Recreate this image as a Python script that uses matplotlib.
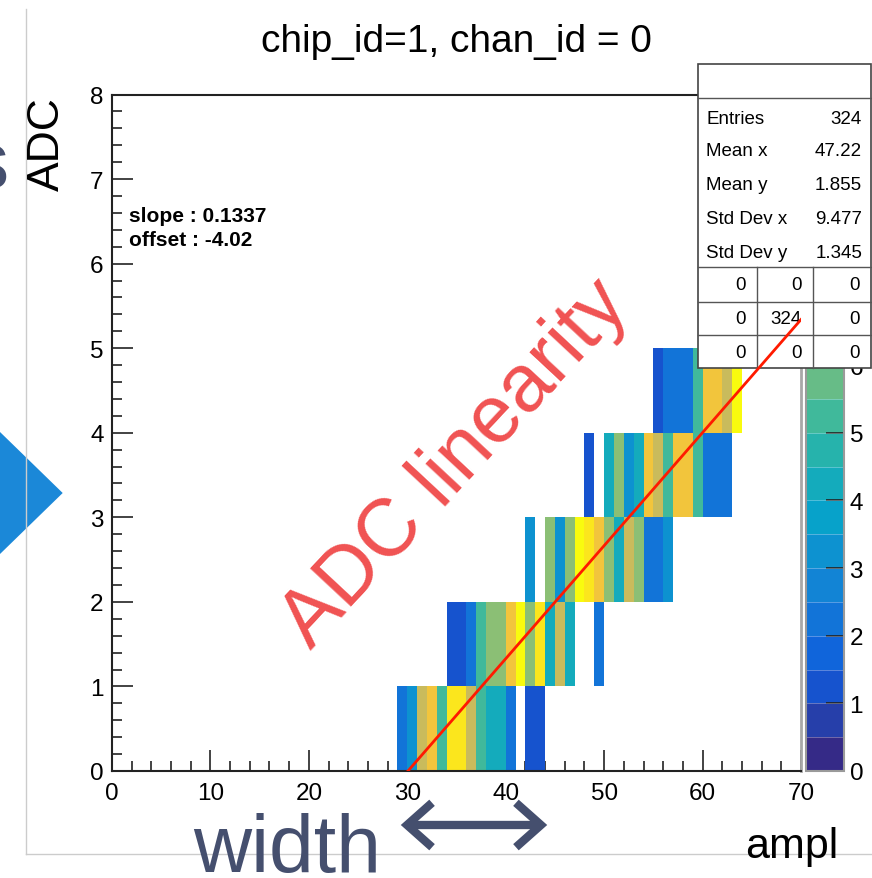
import numpy as np
import matplotlib
matplotlib.use("Agg")
import matplotlib.pyplot as plt
from matplotlib.colors import ListedColormap, BoundaryNorm, LinearSegmentedColormap
from matplotlib.patches import Rectangle, Polygon, FancyArrowPatch
from matplotlib.lines import Line2D

plt.rcParams['font.family'] = ['Liberation Sans', 'DejaVu Sans']

W, H = 872, 879

# ---------------- data ----------------
title = "chip_id=1, chan_id = 0"
x_label = "ampl"
y_label = "ADC"

ampl_adc0 = [29, 30, 31, 32, 33, 34, 35, 36, 37, 38, 39, 40, 42, 43]
counts_adc0 = [2, 3, 7, 8, 5, 9, 9, 7, 5, 4, 4, 2, 1, 1]
ampl_adc1 = [34, 35, 36, 37, 38, 39, 40, 41, 42, 43, 44, 45, 46, 49]
counts_adc1 = [1, 1, 2, 5, 6, 6, 8, 10, 6, 9, 4, 7, 4, 2]
ampl_adc2 = [42, 44, 45, 46, 47, 48, 49, 50, 51, 52, 53, 54, 55, 56]
counts_adc2 = [3, 6, 3, 6, 10, 9, 8, 6, 4, 7, 6, 2, 2, 3]
ampl_adc3 = [48, 50, 51, 52, 53, 54, 55, 56, 57, 58, 59, 60, 61, 62]
counts_adc3 = [1, 4, 6, 3, 4, 8, 7, 5, 8, 8, 5, 2, 2, 2]
ampl_adc4 = [55, 56, 57, 58, 59, 60, 61, 62, 63]
counts_adc4 = [1, 2, 2, 2, 5, 8, 8, 7, 10]

adc_values = [0, 1, 2, 3, 4]
ampl_rows = [ampl_adc0, ampl_adc1, ampl_adc2, ampl_adc3, ampl_adc4]
count_rows = [counts_adc0, counts_adc1, counts_adc2, counts_adc3, counts_adc4]

slope = 0.1337
offset = -4.02
fit_range = [30, 70]

stats_labels = ["Entries", "Mean x", "Mean y", "Std Dev x", "Std Dev y"]
stats_values = ["324", "47.22", "1.855", "9.477", "1.345"]
overflow_grid = [["0", "0", "0"], ["0", "324", "0"], ["0", "0", "0"]]

x_ticks = [0, 10, 20, 30, 40, 50, 60, 70]
y_ticks = [0, 1, 2, 3, 4, 5, 6, 7, 8]
z_ticks = [0, 1, 2, 3, 4, 5, 6]   # higher ones are hidden behind the stats box
z_max = 10
n_contours = 20

# ---------------- helpers ----------------
def fx(x):
    return x / W

def fy(y):
    return 1 - y / H

# kBird palette (ROOT)
bird_r = [0.2082, 0.0592, 0.0780, 0.0232, 0.1802, 0.5301, 0.8186, 0.9956, 0.9764]
bird_g = [0.1664, 0.3599, 0.5041, 0.6419, 0.7178, 0.7492, 0.7328, 0.7862, 0.9832]
bird_b = [0.5293, 0.8684, 0.8385, 0.7914, 0.6425, 0.4662, 0.3499, 0.1968, 0.0539]
bird = LinearSegmentedColormap.from_list(
    "bird", list(zip(np.linspace(0, 1, 9), zip(bird_r, bird_g, bird_b))))
band_colors = [bird(k / (n_contours - 1)) for k in range(n_contours)]
cmap = ListedColormap(band_colors)
levels = np.linspace(0, z_max, n_contours + 1)
norm = BoundaryNorm(levels, cmap.N)

# histogram grid
x_edges = np.arange(0, 71, 1)
y_edges = np.arange(0, 9, 1)
grid = np.zeros((len(y_edges) - 1, len(x_edges) - 1))
for adc, xs, cs in zip(adc_values, ampl_rows, count_rows):
    for xv, cv in zip(xs, cs):
        grid[adc, xv] = cv
grid_m = np.ma.masked_equal(grid, 0)

# ---------------- figure ----------------
fig = plt.figure(figsize=(W / 100, H / 100), dpi=100)
fig.patch.set_facecolor("white")

ax_l, ax_r, ax_t, ax_b = 112, 801, 95.5, 772
ax = fig.add_axes([fx(ax_l), fy(ax_b), (ax_r - ax_l) / W, (ax_b - ax_t) / H])
cax = fig.add_axes([fx(806), fy(ax_b), (844 - 806) / W, (ax_b - ax_t) / H])
ax.set_zorder(3)
cax.set_zorder(1)

mesh = ax.pcolormesh(x_edges, y_edges, grid_m, cmap=cmap, norm=norm,
                     edgecolors='none', zorder=2)

xfit = np.array(fit_range, dtype=float)
ax.plot(xfit, slope * xfit + offset, color='#ff1a00', lw=2.0, zorder=12)

ax.set_xlim(0, 70)
ax.set_ylim(0, 8)
ax.set_xticks(x_ticks)
ax.set_xticks(np.arange(0, 71, 2), minor=True)
ax.set_yticks(y_ticks)
ax.set_yticks(np.arange(0, 8.001, 0.2), minor=True)
ax.tick_params(axis='both', which='major', direction='in', length=15, width=1.2,
               labelsize=17.5, color='#222222')
ax.tick_params(axis='both', which='minor', direction='in', length=7, width=1.2,
               color='#222222')
ax.tick_params(axis='x', pad=8)
ax.tick_params(axis='y', pad=6)
for s in ['left', 'bottom', 'top']:
    ax.spines[s].set_linewidth(1.5)
    ax.spines[s].set_color('#222222')
ax.spines['right'].set_color('#a8a8a8')
ax.spines['right'].set_linewidth(2)

# colorbar
cb = fig.colorbar(mesh, cax=cax, ticks=z_ticks)
cb.outline.set_edgecolor('#9a9a9a')
cb.outline.set_linewidth(1.5)
cax.tick_params(direction='in', length=13, width=1.2, labelsize=17.5, pad=4,
                color='#222222')
cax.minorticks_off()
for lv in levels[1:-1]:
    cax.axhline(lv, color='white', lw=0.6, alpha=0.35)

# ---------------- stats box (drawn above colorbar) ----------------
box_kw = dict(transform=fig.transFigure, clip_on=False)
ax.add_patch(Rectangle((fx(698), fy(369)), (871 - 698) / W, (369 - 65) / H,
                       facecolor='white', edgecolor='#444444', lw=1.2,
                       zorder=8, **box_kw))
for yy in [99, 268, 303, 336]:
    ax.add_line(Line2D([fx(698), fx(871)], [fy(yy), fy(yy)], color='#555555',
                       lw=1.0, zorder=9, **box_kw))
for xx in [757, 813]:
    ax.add_line(Line2D([fx(xx), fx(xx)], [fy(268), fy(369)], color='#555555',
                       lw=1.0, zorder=9, **box_kw))
row_y = [119, 152, 185, 220, 253]
for lab, val, yy in zip(stats_labels, stats_values, row_y):
    ax.text(fx(706), fy(yy), lab, ha='left', va='center', fontsize=13.5,
            zorder=10, **box_kw)
    ax.text(fx(862), fy(yy), val, ha='right', va='center', fontsize=13.5,
            zorder=10, **box_kw)
cell_right = [746, 802, 860]
cell_y = [286, 320, 353]
for r, yy in enumerate(cell_y):
    for c, xx in enumerate(cell_right):
        ax.text(fx(xx), fy(yy), overflow_grid[r][c], ha='right', va='center',
                fontsize=13.5, zorder=10, **box_kw)

# ---------------- texts ----------------
fig.text(fx(456), fy(52), title, ha='center', va='baseline', fontsize=28)
fig.text(fx(47), fy(97), y_label, rotation=90, ha='center', va='top', fontsize=32)
fig.text(fx(838), fy(858), x_label, ha='right', va='baseline', fontsize=31)
fig.text(fx(129), fy(222), "slope : 0.1337", ha='left', va='baseline',
         fontsize=15, fontweight='bold')
fig.text(fx(129), fy(246), "offset : -4.02", ha='left', va='baseline',
         fontsize=15, fontweight='bold')

fig.text(fx(455), fy(464), "ADC linearity", rotation=47, rotation_mode='anchor',
         ha='center', va='center', color='#f05252', fontsize=58, zorder=20)

# decoration: canvas border lines
fig.add_artist(Line2D([fx(25.5), fx(25.5)], [fy(10), fy(855)], color='#cccccc', lw=1))
fig.add_artist(Line2D([fx(25.5), fx(872)], [fy(855), fy(855)], color='#cccccc', lw=1))

slate = '#454f6e'
fig.text(fx(193), fy(872), "width", ha='left', va='baseline', fontsize=58,
         color=slate, zorder=20)
fig.text(fx(9), fy(188), "s", ha='right', va='baseline', fontsize=58,
         color=slate)
arr = FancyArrowPatch((fx(398), fy(826)), (fx(550), fy(826)),
                      transform=fig.transFigure,
                      arrowstyle='<->,head_length=0.9,head_width=0.8',
                      color=slate, lw=6, mutation_scale=20, capstyle='butt',
                      joinstyle='miter')
fig.add_artist(arr)

tri = Polygon([(fx(0), fy(433)), (fx(62.7), fy(494)), (fx(0), fy(555))],
              closed=True, transform=fig.transFigure, facecolor='#1b88d8',
              edgecolor='none')
fig.add_artist(tri)

fig.savefig("out.png", dpi=100, facecolor='white')
